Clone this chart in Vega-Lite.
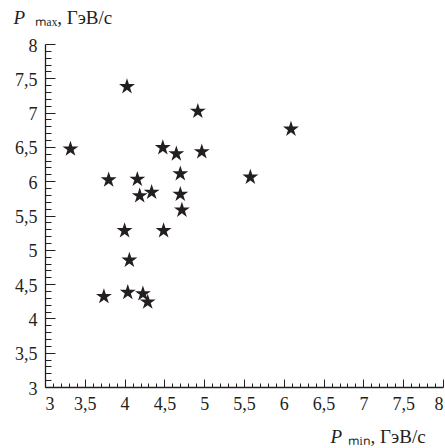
{
  "$schema": "https://vega.github.io/schema/vega-lite/v6.json",
  "width": 398,
  "height": 343,
  "autosize": {"type": "none"},
  "padding": {"left": 45, "top": 44, "right": 2, "bottom": 61},
  "background": "white",
  "config": {
    "view": {"stroke": null},
    "font": "Liberation Serif",
    "axis": {"labelFont": "Liberation Serif", "titleFont": "Liberation Serif", "labelColor": "#231f20", "titleColor": "#231f20", "domainColor": "#231f20", "tickColor": "#231f20", "grid": false}
  },
  "data": {
    "values": [
      {"pmin": 4.03, "pmax": 7.39},
      {"pmin": 4.92, "pmax": 7.03},
      {"pmin": 6.09, "pmax": 6.77},
      {"pmin": 3.32, "pmax": 6.48},
      {"pmin": 4.48, "pmax": 6.50},
      {"pmin": 4.65, "pmax": 6.41},
      {"pmin": 4.97, "pmax": 6.44},
      {"pmin": 4.70, "pmax": 6.12},
      {"pmin": 3.80, "pmax": 6.03},
      {"pmin": 4.16, "pmax": 6.04},
      {"pmin": 5.58, "pmax": 6.07},
      {"pmin": 4.34, "pmax": 5.85},
      {"pmin": 4.19, "pmax": 5.80},
      {"pmin": 4.70, "pmax": 5.82},
      {"pmin": 4.72, "pmax": 5.59},
      {"pmin": 4.00, "pmax": 5.29},
      {"pmin": 4.49, "pmax": 5.29},
      {"pmin": 4.06, "pmax": 4.86},
      {"pmin": 3.74, "pmax": 4.33},
      {"pmin": 4.04, "pmax": 4.39},
      {"pmin": 4.23, "pmax": 4.37},
      {"pmin": 4.29, "pmax": 4.25}
    ]
  },
  "layer": [
    {
      "mark": {"type": "point", "shape": "M0,-0.905L0.225,-0.214L0.951,-0.214L0.363,0.213L0.588,0.904L0,0.477L-0.588,0.904L-0.363,0.213L-0.951,-0.214L-0.225,-0.214Z", "filled": true, "size": 280, "color": "#231f20", "opacity": 1, "strokeWidth": 0},
      "encoding": {
        "x": {
          "field": "pmin", "type": "quantitative",
          "scale": {"domain": [3, 8], "nice": false, "zero": false},
          "axis": {
            "orient": "bottom",
            "values": [3,3.1,3.2,3.3,3.4,3.5,3.6,3.7,3.8,3.9,4,4.1,4.2,4.3,4.4,4.5,4.6,4.7,4.8,4.9,5,5.1,5.2,5.3,5.4,5.5,5.6,5.7,5.8,5.9,6,6.1,6.2,6.3,6.4,6.5,6.6,6.7,6.8,6.9,7,7.1,7.2,7.3,7.4,7.5,7.6,7.7,7.8,7.9,8],
            "tickSize": {"condition": {"test": "abs(datum.value*2 - round(datum.value*2)) < 0.001", "value": -8}, "value": -4},
            "tickWidth": 1,
            "domainWidth": 1.3,
            "labelExpr": "abs(datum.value*2 - round(datum.value*2)) < 0.001 ? replace('' + datum.value, '.', ',') : ''",
            "labelFontSize": 18,
            "labelPadding": 16,
            "labelOverlap": false,
            "labelBound": false,
            "labelFlush": true,
            "title": "P",
            "titleFontStyle": "italic",
            "titleFontWeight": "normal",
            "titleFontSize": 19,
            "titleAlign": "left",
            "titleBaseline": "alphabetic",
            "titleX": 285,
            "titleY": 55
          }
        },
        "y": {
          "field": "pmax", "type": "quantitative",
          "scale": {"domain": [3, 8], "nice": false, "zero": false},
          "axis": {
            "orient": "left",
            "values": [3,3.1,3.2,3.3,3.4,3.5,3.6,3.7,3.8,3.9,4,4.1,4.2,4.3,4.4,4.5,4.6,4.7,4.8,4.9,5,5.1,5.2,5.3,5.4,5.5,5.6,5.7,5.8,5.9,6,6.1,6.2,6.3,6.4,6.5,6.6,6.7,6.8,6.9,7,7.1,7.2,7.3,7.4,7.5,7.6,7.7,7.8,7.9,8],
            "tickSize": {"condition": {"test": "abs(datum.value*2 - round(datum.value*2)) < 0.001", "value": -10}, "value": -6},
            "tickWidth": 1,
            "domainWidth": 1.3,
            "labelExpr": "abs(datum.value*2 - round(datum.value*2)) < 0.001 ? replace('' + datum.value, '.', ',') : ''",
            "labelFontSize": 18,
            "labelPadding": 18,
            "labelOverlap": false,
            "labelBound": false,
            "labelFlush": false,
            "labelOffset": 2,
            "title": "P",
            "titleFontStyle": "italic",
            "titleFontWeight": "normal",
            "titleFontSize": 19,
            "titleAngle": 0,
            "titleAlign": "left",
            "titleBaseline": "alphabetic",
            "titleX": -32,
            "titleY": -21
          }
        }
      }
    },
    {
      "mark": {"type": "point", "shape": "circle", "filled": true, "size": 10, "color": "#231f20", "opacity": 0},
      "encoding": {
        "x": {
          "field": "pmin", "type": "quantitative",
          "scale": {"domain": [3, 8], "nice": false, "zero": false},
          "axis": {
            "orient": "top", "domain": false, "ticks": false, "labels": false,
            "title": "ₘᵢₙ, ГэВ/с",
            "titleFontWeight": "normal",
            "titleFontSize": 19,
            "titleAlign": "left",
            "titleBaseline": "alphabetic",
            "titleX": 302,
            "titleY": 398
          }
        },
        "y": {
          "field": "pmax", "type": "quantitative",
          "scale": {"domain": [3, 8], "nice": false, "zero": false},
          "axis": {
            "orient": "right", "domain": false, "ticks": false, "labels": false,
            "title": "ₘₐₓ, ГэВ/с",
            "titleFontWeight": "normal",
            "titleFontSize": 19,
            "titleAngle": 0,
            "titleAlign": "left",
            "titleBaseline": "alphabetic",
            "titleX": -409,
            "titleY": -21
          }
        }
      }
    }
  ],
  "resolve": {"axis": {"x": "independent", "y": "independent"}}
}
